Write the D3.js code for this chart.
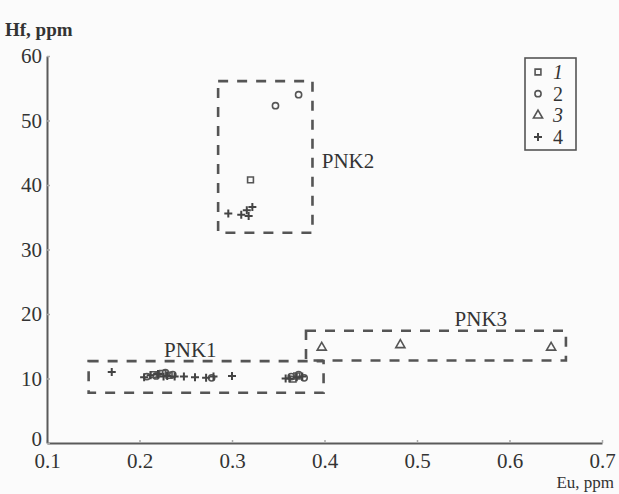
<!DOCTYPE html>
<html>
<head>
<meta charset="utf-8">
<script src="https://cdn.jsdelivr.net/npm/d3@7"></script>
<style>
  body { margin: 0; background: #fbfbfb; }
  svg { display: block; }
  text { font-family: "Liberation Serif", "DejaVu Serif", serif; fill: #333; }
</style>
</head>
<body>
<script>
// Hf vs Eu (ppm) - groups 1..4, fields PNK1..PNK3

const xTicks = [0.1, 0.2, 0.3, 0.4, 0.5, 0.6, 0.7];
const yTicks = [0, 10, 20, 30, 40, 50, 60];

// series 1 (squares)
const series1 = [[0.32, 40.8], [0.215, 10.6], [0.225, 10.8], [0.232, 10.5], [0.366, 9.9], [0.37, 10.4]];
// series 2 (circles)
const series2 = [[0.347, 52.3], [0.372, 54], [0.208, 10.3], [0.218, 10.4], [0.228, 10.9],
  [0.236, 10.6], [0.278, 10.1], [0.364, 10.3], [0.372, 10.6], [0.378, 10.1]];
// series 3 (triangles)
const series3 = [[0.397, 14.8], [0.482, 15.2], [0.645, 14.8]];
// series 4 (crosses)
const series4 = [[0.296, 35.6], [0.31, 35.4], [0.316, 36.1], [0.318, 35.2], [0.322, 36.6],
  [0.17, 11], [0.205, 10.2], [0.212, 10.5], [0.22, 10.7], [0.226, 10.3], [0.23, 10.4], [0.238, 10.3],
  [0.248, 10.3], [0.26, 10.2], [0.272, 10.1], [0.28, 10.3], [0.30, 10.4],
  [0.358, 10], [0.362, 10], [0.37, 10.2], [0.376, 10.3]];

// dashed fields: name, x0, x1, y0, y1, label position
const fieldNames = ["PNK1", "PNK2", "PNK3"];
const fieldX = [[0.145, 0.399], [0.285, 0.387], [0.38, 0.661]];
const fieldY = [[7.8, 12.7], [32.6, 56.1], [12.8, 17.4]];
const labelPos = [[0.255, 13.3], [0.397, 42.6], [0.569, 18.1]];

const legendLabels = ["1", "2", "3", "4"];

const width = 619;
const height = 494;

const svg = d3.select("body")
  .append("svg")
  .attr("width", width)
  .attr("height", height);

const x = d3.scaleLinear().domain([0.1, 0.7]).range([47, 602]);
const y = d3.scaleLinear().domain([0, 60]).range([443, 56]);

// axes
const xAxis = d3.axisBottom(x).tickValues(xTicks).tickFormat(d3.format(".1f"))
  .tickSizeInner(-3).tickSizeOuter(0).tickPadding(10);
const yAxis = d3.axisLeft(y).tickValues(yTicks)
  .tickSizeInner(-3).tickSizeOuter(0).tickPadding(5);

const gx = svg.append("g").attr("transform", `translate(0,${y(0)})`).call(xAxis);
const gy = svg.append("g").attr("transform", `translate(${x(0.1)},0)`).call(yAxis);

[gx, gy].forEach(g => {
  g.select(".domain").attr("stroke", "#5a5a5a").attr("stroke-width", 2);
  g.selectAll(".tick line").attr("stroke", "#aaa").attr("stroke-width", 1.5);
  g.selectAll(".tick text").attr("font-size", 21).attr("font-family", "Liberation Serif").attr("fill", "#333");
});
// "0" sits a little above the axis line
gy.selectAll(".tick text").filter(d => d === 0).attr("dy", "0.1em");

svg.append("text").attr("x", 5).attr("y", 36)
  .attr("font-size", 19).attr("font-weight", "bold").text("Hf, ppm");
svg.append("text").attr("x", 614).attr("y", 488).attr("text-anchor", "end")
  .attr("font-size", 17).text("Eu, ppm");

// dashed fields
fieldNames.forEach((name, i) => {
  svg.append("rect")
    .attr("x", x(fieldX[i][0]))
    .attr("y", y(fieldY[i][1]))
    .attr("width", x(fieldX[i][1]) - x(fieldX[i][0]))
    .attr("height", y(fieldY[i][0]) - y(fieldY[i][1]))
    .attr("fill", "none")
    .attr("stroke", "#555")
    .attr("stroke-width", 2.6)
    .attr("stroke-dasharray", "10,9");
  svg.append("text")
    .attr("x", x(labelPos[i][0]))
    .attr("y", y(labelPos[i][1]))
    .attr("text-anchor", i === 1 ? "start" : "middle")
    .attr("font-size", 21)
    .text(name);
});

// symbols
const sym = [d3.symbolSquare, d3.symbolCircle, d3.symbolTriangle, d3.symbolCross];
const symSize = [34, 30, 36, 34];
const allSeries = [series1, series2, series3, series4];

function drawSym(g, k, cx, cy) {
  const p = g.append("path")
    .attr("d", d3.symbol().type(sym[k]).size(symSize[k])())
    .attr("transform", `translate(${cx},${cy})`);
  if (k === 3) {
    p.attr("d", "M-4,0H4M0,-4V4").attr("stroke", "#444").attr("stroke-width", 2).attr("fill", "none");
  } else {
    p.attr("fill", "none").attr("stroke", "#555").attr("stroke-width", 1.6);
  }
}

allSeries.forEach((s, k) => {
  s.forEach(d => drawSym(svg, k, x(d[0]), y(d[1])));
});

// legend
const lg = svg.append("g");
lg.append("rect").attr("x", 525).attr("y", 58).attr("width", 51).attr("height", 92)
  .attr("fill", "none").attr("stroke", "#555").attr("stroke-width", 1.6);
legendLabels.forEach((lab, i) => {
  const ly = 72 + i * 21.7;
  drawSym(lg, i, 538, ly);
  lg.append("text").attr("x", 553).attr("y", ly + 7)
    .attr("font-size", 20)
    .attr("font-style", i === 0 || i === 2 ? "italic" : "normal")
    .text(lab);
});
</script>
</body>
</html>
